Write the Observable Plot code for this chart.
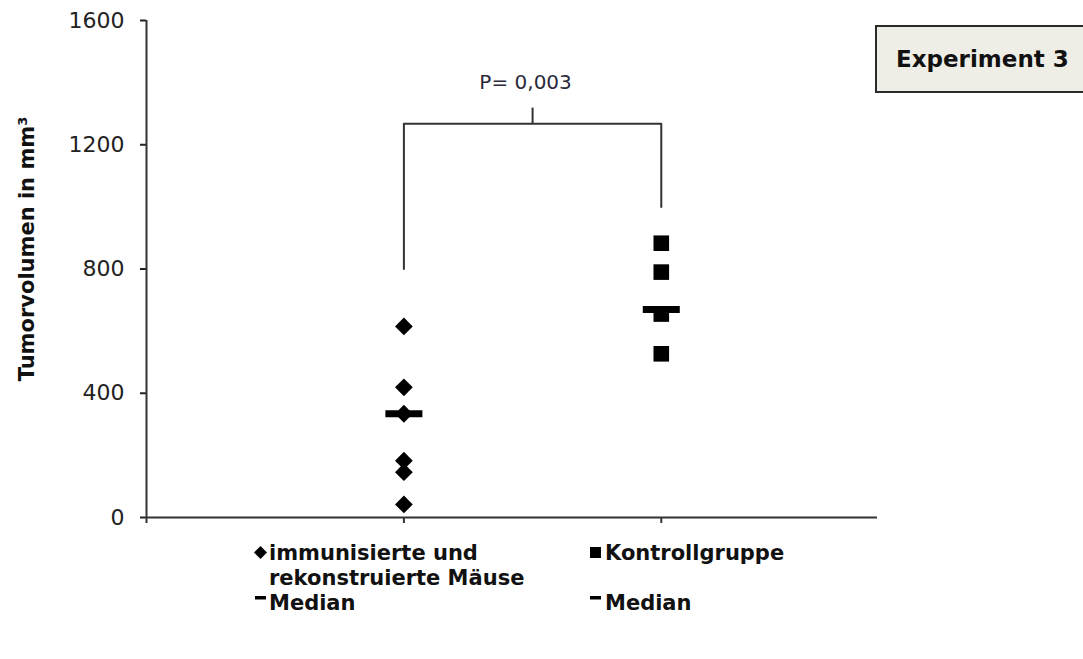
<!DOCTYPE html>
<html>
<head>
<meta charset="utf-8">
<script src="https://cdn.jsdelivr.net/npm/d3@7"></script>
<script src="https://cdn.jsdelivr.net/npm/@observablehq/plot@0.6"></script>
<style>
  html, body { margin: 0; padding: 0; background: #fff; overflow: hidden; }
  #wrap { position: relative; width: 1083px; height: 659px; font-family: "DejaVu Sans", sans-serif; }
  #chart svg { display: block; }
  .exp { position: absolute; left: 875px; top: 25px; width: 240px; height: 64px;
         border: 2px solid #2a2a2a; background: #efeee6; box-sizing: content-box;
         display: flex; align-items: center; padding-left: 19px;
         font-weight: bold; font-size: 23px; color: #111; }
  .legend { position: absolute; top: 541px; font-weight: bold; font-size: 21px; line-height: 25px; color: #111; }
  .legend .row { position: relative; height: 25px; white-space: nowrap; }
  .legend svg { position: absolute; }
</style>
</head>
<body>
<div id="wrap">
  <div id="chart"></div>
  <div class="exp" id="exp"></div>
  <div class="legend" id="leg1" style="left:253px"></div>
  <div class="legend" id="leg2" style="left:588px"></div>
</div>
<script>
// ---- data ----
const groups = ["immunisierte und rekonstruierte Mäuse", "Kontrollgruppe"];
const groupPos = [1, 2];
const immunisiert = [615, 419, 334, 183, 146, 42];
const kontrolle = [883, 790, 655, 527];
const medians = [334, 670];
const yTicks = [0, 400, 800, 1200, 1600];
const yLabel = "Tumorvolumen in mm³";
const bracketLegs = [800, 1000];      // bottom ends of the bracket legs
const bracketTop = 1268;
const bracketTickTop = 1318;
const pLabel = "P= 0,003";
const pLabelValue = 1400;
const experimentTitle = "Experiment 3";
const legendLines1 = ["immunisierte und", "rekonstruierte Mäuse", "Median"];
const legendLines2 = ["Kontrollgruppe", "", "Median"];

// ---- build tables ----
const points = [
  ...immunisiert.map(v => ({group: groups[0], x: groupPos[0], v})),
  ...kontrolle.map(v => ({group: groups[1], x: groupPos[1], v}))
];
const medianRows = medians.map((v, i) => ({x: groupPos[i], v}));
const bracketPath = [
  {x: groupPos[0], v: bracketLegs[0]},
  {x: groupPos[0], v: bracketTop},
  {x: groupPos[1], v: bracketTop},
  {x: groupPos[1], v: bracketLegs[1]}
];
const mid = (groupPos[0] + groupPos[1]) / 2;

const medianBar = {
  draw(ctx) { ctx.rect(-18.5, -3.5, 37, 7); }
};

const axisColor = "#333";
const chart = Plot.plot({
  width: 1083,
  height: 535,
  marginLeft: 146,
  marginRight: 206,
  marginTop: 20,
  marginBottom: 18,
  style: {fontFamily: "DejaVu Sans, sans-serif", background: "#fff", overflow: "visible"},
  x: {domain: [0, 2.84], axis: null},
  y: {domain: [0, 1600], axis: null},
  marks: [
    Plot.axisY({ticks: yTicks, tickFormat: d => String(d), tickSize: 6, tickPadding: 16, fontSize: 22, color: "#222", strokeWidth: 2, label: null}),
    Plot.axisX({ticks: [0, ...groupPos], tickSize: 6, tickFormat: () => "", strokeWidth: 2, color: axisColor, label: null}),
    Plot.ruleX([0], {stroke: axisColor, strokeWidth: 2}),
    Plot.ruleY([0], {stroke: axisColor, strokeWidth: 2}),
    Plot.text([yLabel], {frameAnchor: "left", rotate: -90, dx: -119, dy: -20, fontSize: 21, fontWeight: "bold", fill: "#111", textAnchor: "middle", lineAnchor: "middle"}),
    Plot.line(bracketPath, {x: "x", y: "v", stroke: axisColor, strokeWidth: 2}),
    Plot.ruleX([mid], {y1: bracketTop, y2: bracketTickTop, stroke: axisColor, strokeWidth: 2}),
    Plot.text([pLabel], {x: mid, y: pLabelValue, dx: -7, fontSize: 20, fill: "#2a2a3a", textAnchor: "middle", lineAnchor: "middle"}),
    Plot.dot(points.filter(d => d.group === groups[0]), {x: "x", y: "v", symbol: "diamond2", r: 8, fill: "#000", stroke: "none"}),
    Plot.dot(points.filter(d => d.group === groups[1]), {x: "x", y: "v", symbol: "square", r: 8.8, fill: "#000", stroke: "none"}),
    Plot.dot(medianRows, {x: "x", y: "v", symbol: medianBar, fill: "#000", stroke: "none"})
  ]
});
document.getElementById("chart").appendChild(chart);

// ---- title box ----
document.getElementById("exp").textContent = experimentTitle;

// ---- legend ----
function marker(kind) {
  const s = d3.create("svg").attr("width", 15).attr("height", 15).style("left", "0px").style("top", "4px");
  if (kind === "diamond") s.append("path").attr("d", "M7.5,1L14,7.5L7.5,14L1,7.5Z").attr("fill", "#000");
  if (kind === "square") s.append("rect").attr("x", 2).attr("y", 2).attr("width", 11).attr("height", 11).attr("fill", "#000");
  if (kind === "dash") { s.style("top", "0px"); s.append("rect").attr("x", 2).attr("y", 5).attr("width", 11).attr("height", 3.5).attr("fill", "#000"); }
  return s.node();
}
function buildLegend(id, lines, symbol, textLeft) {
  const el = document.getElementById(id);
  lines.forEach((t, i) => {
    const row = document.createElement("div");
    row.className = "row";
    if (t) {
      if (i === 0) row.appendChild(marker(symbol));
      if (t === "Median") row.appendChild(marker("dash"));
      const span = document.createElement("span");
      span.textContent = t;
      span.style.position = "absolute";
      span.style.left = textLeft + "px";
      row.appendChild(span);
    }
    el.appendChild(row);
  });
}
buildLegend("leg1", legendLines1, "diamond", 16);
buildLegend("leg2", legendLines2, "square", 17);
</script>
</body>
</html>
